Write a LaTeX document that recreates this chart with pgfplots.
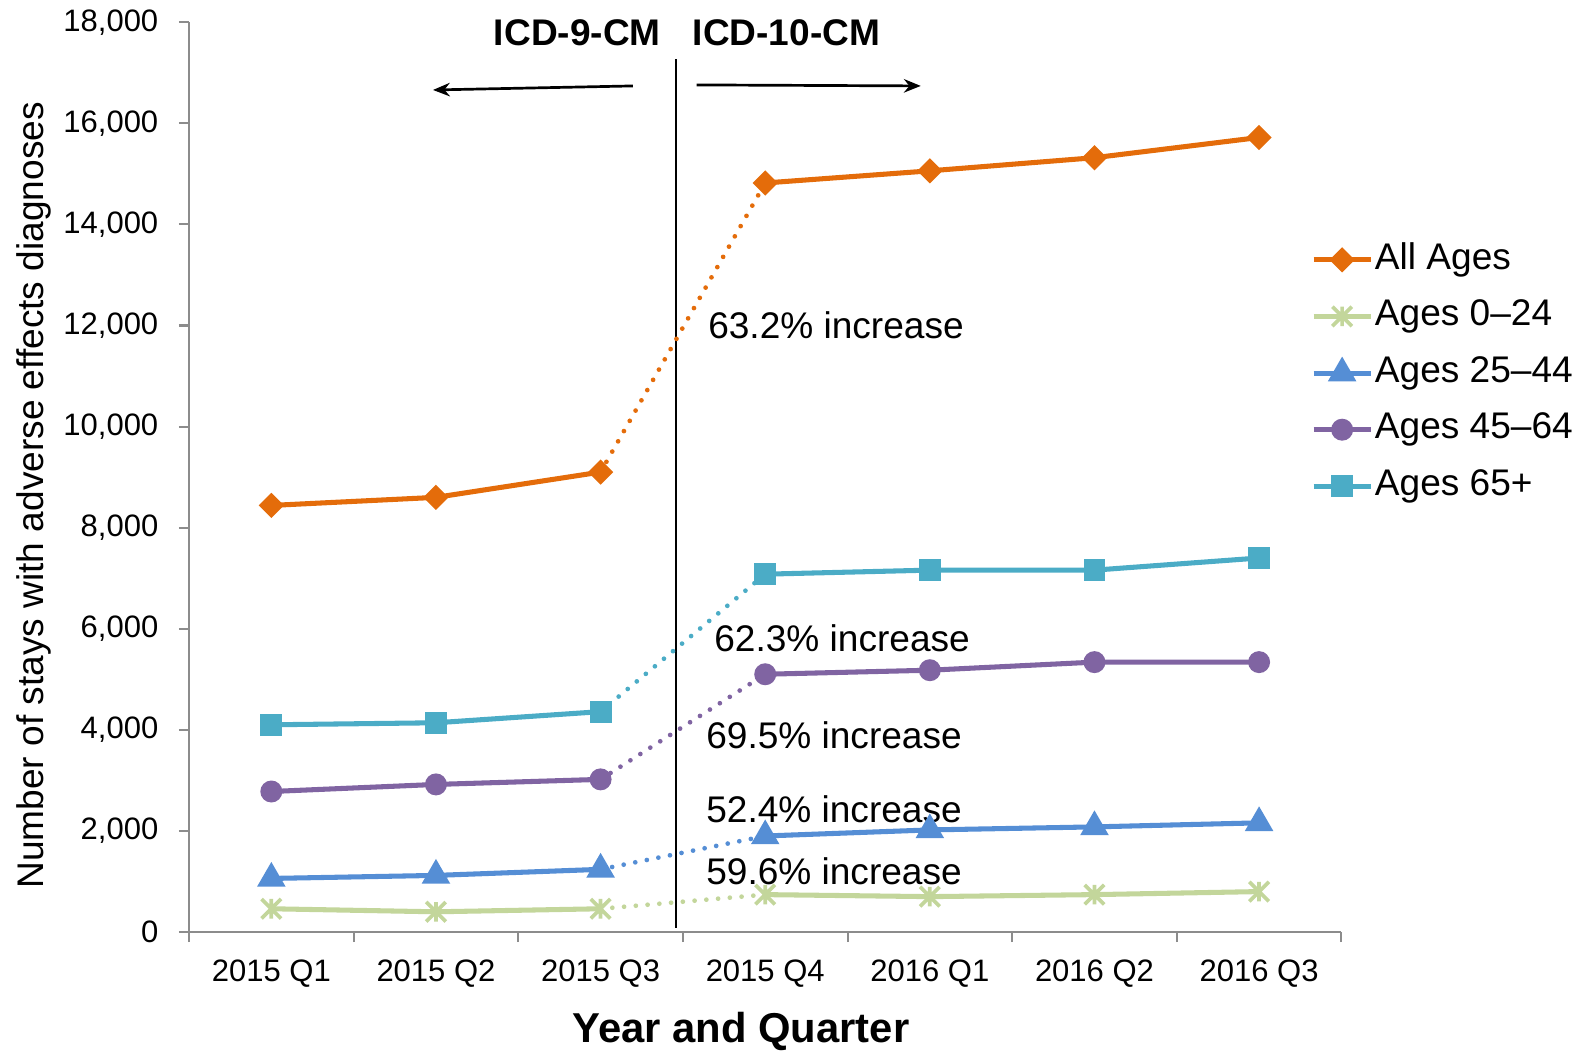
\documentclass[border=0pt]{standalone}
\usepackage{pgfplots}
\pgfplotsset{compat=1.18}
\usepackage{fontspec}
\setmainfont{Liberation Sans}
\usetikzlibrary{arrows.meta}
\definecolor{cAll}{HTML}{E46C0A}
\definecolor{cYoung}{HTML}{C3D69B}
\definecolor{cMid}{HTML}{558ED5}
\definecolor{cOld}{HTML}{8064A2}
\definecolor{cSen}{HTML}{4BACC6}
\definecolor{axgray}{HTML}{8C8C8C}
\pgfdeclareplotmark{xstar}{%
  \pgfpathmoveto{\pgfqpoint{0pt}{\pgfplotmarksize}}\pgfpathlineto{\pgfqpoint{0pt}{-\pgfplotmarksize}}%
  \pgfpathmoveto{\pgfqpoint{-\pgfplotmarksize}{-\pgfplotmarksize}}\pgfpathlineto{\pgfqpoint{\pgfplotmarksize}{\pgfplotmarksize}}%
  \pgfpathmoveto{\pgfqpoint{-\pgfplotmarksize}{\pgfplotmarksize}}\pgfpathlineto{\pgfqpoint{\pgfplotmarksize}{-\pgfplotmarksize}}%
  \pgfusepathqstroke}
\pgfplotsset{
  sAll/.style={cAll, line width=1.5pt, mark=square*, mark size=1.9pt, mark options={rotate=45, solid}},
  sYoung/.style={cYoung, line width=1.5pt, mark=xstar, mark size=2.9pt, mark options={solid, line width=1.1pt}},
  sMid/.style={cMid, line width=1.5pt, mark=triangle*, mark size=3.4pt, mark options={solid}},
  sOld/.style={cOld, line width=1.5pt, mark=*, mark size=2.5pt, mark options={solid}},
  sSen/.style={cSen, line width=1.5pt, mark=square*, mark size=2.5pt, mark options={solid}},
  dotseg/.style={line width=1.4pt, dash pattern=on 0pt off 3.5pt, line cap=round, mark=none},
}
\begin{document}
\begin{tikzpicture}
\useasboundingbox (-56.1pt,-35.1pt) rectangle (414.3pt,276.6pt);
\begin{axis}[
  scale only axis, width=342pt, height=270pt,
  xmin=-0.5, xmax=6.5, ymin=0, ymax=18000,
  axis x line*=bottom, axis y line*=left,
  axis line style={axgray, line width=0.6pt},
  tick style={axgray, line width=0.6pt},
  tick align=outside, major tick length=3pt,
  xtick={-0.5,0.5,...,6.5}, xticklabels={},
  extra x ticks={0,1,2,3,4,5,6},
  extra x tick labels={2015 Q1,2015 Q2,2015 Q3,2015 Q4,2016 Q1,2016 Q2,2016 Q3},
  extra x tick style={major tick length=0pt},
  ytick={0,2000,...,18000},
  scaled y ticks=false,
  /pgf/number format/.cd, 1000 sep={,}, assume math mode=true, /pgfplots/.cd,
  ticklabel style={font=\fontsize{9.2}{11}\selectfont, black},
  yticklabel style={xshift=-2.6pt},
  xticklabel style={yshift=-4.7pt},
  ylabel={Number of stays with adverse effects diagnoses},
  xlabel={Year and Quarter},
  every axis y label/.append style={at={(axis description cs:-0.135,0.48)}, anchor=center, font=\fontsize{11}{13}\selectfont},
  every axis x label/.append style={at={(axis description cs:0.479,-0.109)}, anchor=center, font=\bfseries\fontsize{12.4}{14}\selectfont},
  legend cell align=left,
  legend style={draw=none, fill=none, at={(axis description cs:0.973,0.759)}, anchor=north west,
    inner sep=0pt, row sep=6.3pt, font=\fontsize{11}{13}\selectfont,
    nodes={inner xsep=0.5pt, inner ysep=0pt, text height=8pt, text depth=2.5pt}},
  legend image code/.code={\draw[mark repeat=2,mark phase=2,#1] plot coordinates {(0pt,0pt) (8.5pt,0pt) (17pt,0pt)};},
  clip=false,
]
% vertical separator
\draw[black, line width=0.5pt] (axis cs:2.46,80) -- (axis cs:2.46,17280);
% dotted connectors
\addplot[cAll, dotseg, forget plot] coordinates {(2,9100) (3,14820)};
\addplot[cSen, dotseg, forget plot] coordinates {(2,4360) (3,7080)};
\addplot[cOld, dotseg, forget plot] coordinates {(2,3020) (3,5100)};
\addplot[cMid, dotseg, forget plot] coordinates {(2,1240) (3,1900)};
\addplot[cYoung, dotseg, forget plot] coordinates {(2,460) (3,740)};
% ICD-9 period
\addplot[sAll] coordinates {(0,8440) (1,8600) (2,9100)};
\addlegendentry{All Ages}
\addplot[sYoung] coordinates {(0,460) (1,400) (2,460)};
\addlegendentry{Ages 0--24}
\addplot[sMid] coordinates {(0,1060) (1,1120) (2,1240)};
\addlegendentry{Ages 25--44}
\addplot[sOld] coordinates {(0,2780) (1,2920) (2,3020)};
\addlegendentry{Ages 45--64}
\addplot[sSen] coordinates {(0,4100) (1,4140) (2,4360)};
\addlegendentry{Ages 65+}
% ICD-10 period
\addplot[sAll, forget plot] coordinates {(3,14820) (4,15060) (5,15320) (6,15720)};
\addplot[sYoung, forget plot] coordinates {(3,740) (4,700) (5,740) (6,800)};
\addplot[sMid, forget plot] coordinates {(3,1900) (4,2020) (5,2080) (6,2160)};
\addplot[sOld, forget plot] coordinates {(3,5100) (4,5180) (5,5340) (6,5340)};
\addplot[sSen, forget plot] coordinates {(3,7080) (4,7160) (5,7160) (6,7400)};
% arrows
\draw[black, line width=0.8pt, -{Stealth[length=5pt,width=4pt]}] (axis cs:2.196,16740) -- (axis cs:0.982,16660);
\draw[black, line width=0.8pt, -{Stealth[length=5pt,width=4pt]}] (axis cs:2.583,16760) -- (axis cs:3.945,16740);
\node[font=\bfseries\fontsize{11}{13}\selectfont] at (axis cs:1.859,17800) {ICD-9-CM};
\node[font=\bfseries\fontsize{11}{13}\selectfont] at (axis cs:3.129,17800) {ICD-10-CM};
% annotations
\node[anchor=west, inner sep=0pt, font=\fontsize{11}{13}\selectfont] at (axis cs:2.65,12000) {63.2\% increase};
\node[anchor=west, inner sep=0pt, font=\fontsize{11}{13}\selectfont] at (axis cs:2.687,5820) {62.3\% increase};
\node[anchor=west, inner sep=0pt, font=\fontsize{11}{13}\selectfont] at (axis cs:2.638,3900) {69.5\% increase};
\node[anchor=west, inner sep=0pt, font=\fontsize{11}{13}\selectfont] at (axis cs:2.638,2420) {52.4\% increase};
\node[anchor=west, inner sep=0pt, font=\fontsize{11}{13}\selectfont] at (axis cs:2.638,1200) {59.6\% increase};
\end{axis}
\end{tikzpicture}
\end{document}
